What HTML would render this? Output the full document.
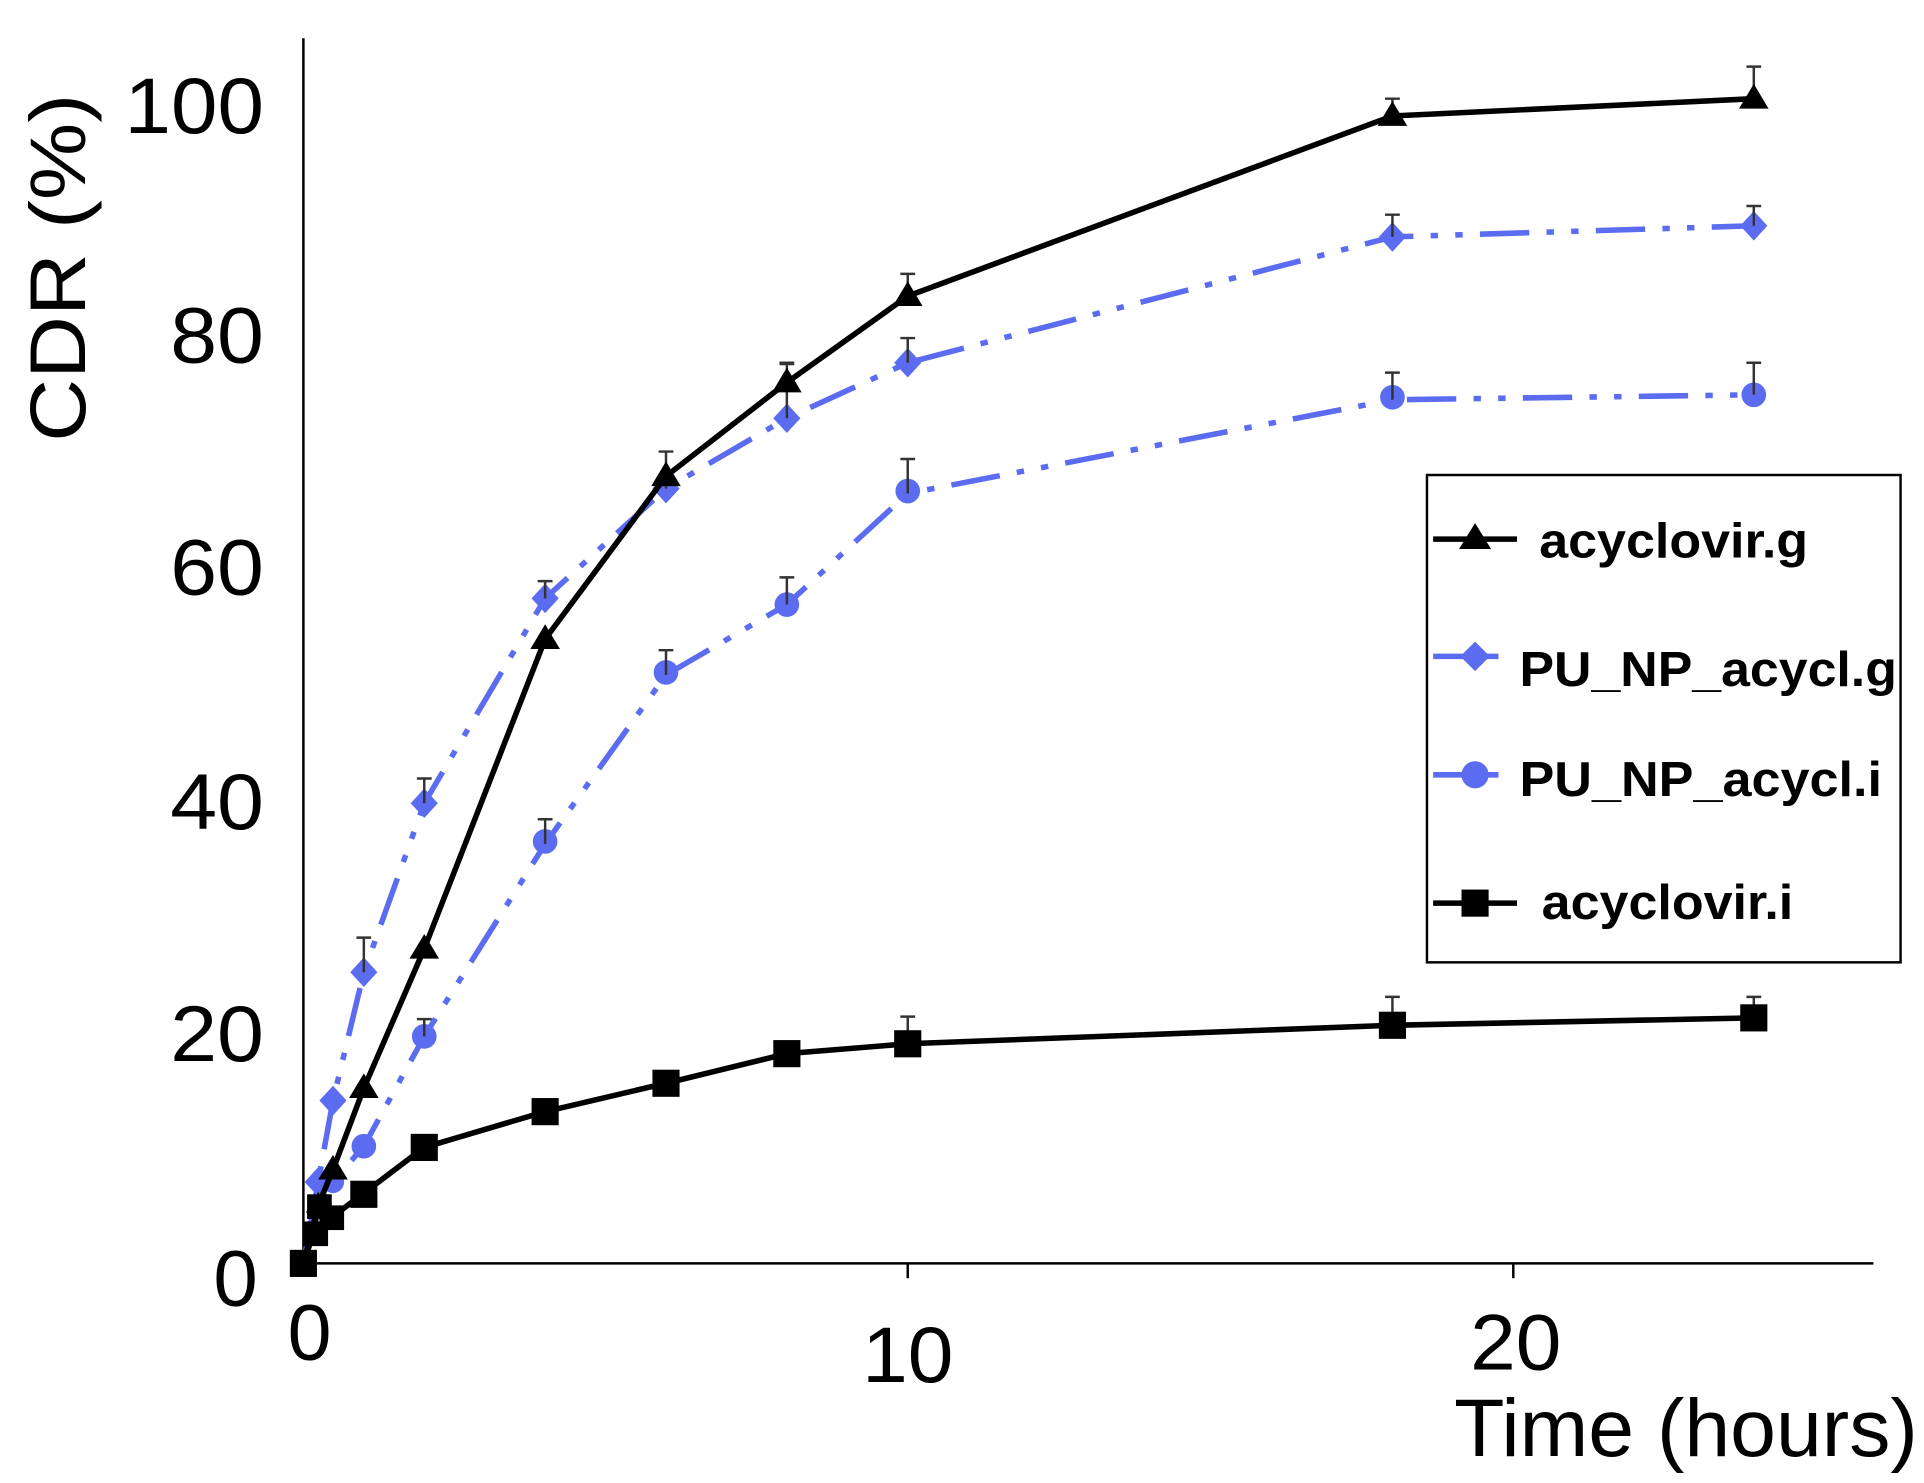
<!DOCTYPE html>
<html><head><meta charset="utf-8"><style>html,body{margin:0;padding:0;background:#fff;}svg{display:block}</style></head>
<body>
<svg width="1924" height="1483" viewBox="0 0 1560 1202" preserveAspectRatio="none" xmlns="http://www.w3.org/2000/svg" font-family="Liberation Sans, sans-serif">
<rect width="1560" height="1202" fill="#fff"/>
<g transform="translate(-1,-4)">
<!-- axes -->
<line x1="247" y1="35" x2="247" y2="1028" stroke="#000" stroke-width="2"/>
<line x1="247" y1="1028" x2="1520" y2="1028" stroke="#000" stroke-width="2"/>
<line x1="737" y1="1028" x2="737" y2="1040" stroke="#000" stroke-width="2"/>
<line x1="1228" y1="1028" x2="1228" y2="1040" stroke="#000" stroke-width="2"/>
<g font-size="64" text-anchor="end" fill="#000">
<text x="215" y="112" textLength="113" lengthAdjust="spacingAndGlyphs">100</text>
<text x="215" y="298" textLength="76" lengthAdjust="spacingAndGlyphs">80</text>
<text x="215" y="486" textLength="76" lengthAdjust="spacingAndGlyphs">60</text>
<text x="215" y="676" textLength="76" lengthAdjust="spacingAndGlyphs">40</text>
<text x="215" y="864" textLength="76" lengthAdjust="spacingAndGlyphs">20</text>
<text x="210" y="1062" textLength="36" lengthAdjust="spacingAndGlyphs">0</text>
</g>
<g font-size="64" text-anchor="middle">
<text x="252" y="1106">0</text>
<text x="737" y="1124" textLength="74" lengthAdjust="spacingAndGlyphs">10</text>
<text x="1230" y="1114" textLength="74" lengthAdjust="spacingAndGlyphs">20</text>
</g>
<text x="1180" y="1184" font-size="66" textLength="376" lengthAdjust="spacingAndGlyphs">Time (hours)</text>
<text transform="translate(70,362) rotate(-90)" font-size="64" textLength="282" lengthAdjust="spacingAndGlyphs">CDR (%)</text>

<!-- blue series -->
<g stroke="#5b6cf0" stroke-width="4.5" fill="none" stroke-dasharray="40,14,6,14,6,14">
<polyline points="247,1028 259,962 271,896 296,792 345,655 443,489 541,400 639,343 737,298 1130,196 1423,187"/>
<polyline points="247,1028 259,981 271,962 296,933 345,844 443,688 541,551 639,494 737,404 1130,328 1423,324"/>
</g>
<g fill="#5b6cf0">
<path d="M259,950 l11,12 -11,12 -11,-12z"/><path d="M271,884 l11,12 -11,12 -11,-12z"/><path d="M296,780 l11,12 -11,12 -11,-12z"/><path d="M345,643 l11,12 -11,12 -11,-12z"/><path d="M443,477 l11,12 -11,12 -11,-12z"/><path d="M541,388 l11,12 -11,12 -11,-12z"/><path d="M639,331 l11,12 -11,12 -11,-12z"/><path d="M737,286 l11,12 -11,12 -11,-12z"/><path d="M1130,184 l11,12 -11,12 -11,-12z"/><path d="M1423,175 l11,12 -11,12 -11,-12z"/>
<circle cx="296" cy="933" r="10"/><circle cx="345" cy="844" r="10"/><circle cx="443" cy="686" r="10"/><circle cx="541" cy="549" r="10"/><circle cx="639" cy="494" r="10"/><circle cx="737" cy="402" r="10"/><circle cx="1130" cy="326" r="10"/><circle cx="1423" cy="324" r="10"/><circle cx="271" cy="962" r="9"/>
</g>
<!-- error bars -->
<g stroke="#333" stroke-width="2">
<path d="M296,792v-28M290,764h12 M345,655v-20M339,635h12 M443,489v-14M437,475h12 M541,400v-30M535,370h12 M639,343v-44M633,299h12 M737,298v-20M731,278h12 M737,404v-28M731,376h12 M639,494v-22M633,472h12 M541,551v-20M535,531h12 M443,688v-20M437,668h12 M345,844v-14M339,830h12 M1130,196v-18M1124,178h12 M1423,187v-16M1417,171h12 M1130,328v-22M1124,306h12 M1423,324v-26M1417,298h12 M1423,84v-26M1417,58h12 M1130,98v-14M1124,84h12 M737,240v-14M731,226h12 M639,314v-16M633,298h12 M541,390v-20M535,370h12 M1130,836v-24M1124,812h12 M1423,830v-18M1417,812h12 M737,852v-24M731,828h12"/>
</g>
<!-- black series -->
<g stroke="#000" stroke-width="4.5" fill="none">
<polyline points="247,1028 259,981 271,952 296,886 345,773 443,522 541,390 639,314 737,244 1130,98 1423,84"/>
<polyline points="247,1028 255,1004 259,981 271,990 296,971 345,934 443,905 541,882 639,858 737,850 1130,835 1423,829"/>
</g>
<g fill="#000">
<path d="M271,940 l12,20 h-24z"/><path d="M296,874 l12,20 h-24z"/><path d="M345,761 l12,20 h-24z"/><path d="M443,510 l12,20 h-24z"/><path d="M541,378 l12,20 h-24z"/><path d="M639,302 l12,20 h-24z"/><path d="M737,232 l12,20 h-24z"/><path d="M1130,86 l12,20 h-24z"/><path d="M1423,72 l12,20 h-24z"/><path d="M259,970 l10,17 h-20z"/>
<rect x="236" y="1017" width="22" height="22"/><rect x="247" y="994" width="20" height="20"/><rect x="250" y="972" width="20" height="20"/><rect x="260" y="981" width="20" height="20"/><rect x="285" y="961" width="22" height="22"/><rect x="334" y="923" width="22" height="22"/><rect x="432" y="894" width="22" height="22"/><rect x="530" y="871" width="22" height="22"/><rect x="628" y="847" width="22" height="22"/><rect x="726" y="839" width="22" height="22"/><rect x="1119" y="824" width="22" height="22"/><rect x="1412" y="818" width="22" height="22"/>
</g>
</g>
<!-- legend -->
<rect x="1157" y="385" width="384" height="395" fill="#fff" stroke="#000" stroke-width="2"/>
<line x1="1162" y1="437" x2="1230" y2="437" stroke="#000" stroke-width="4.5"/>
<path d="M1196,424 l13,21 h-26z" fill="#000"/>
<line x1="1162" y1="532" x2="1215" y2="532" stroke="#5b6cf0" stroke-width="4.5"/>
<path d="M1196,520 l12,12 -12,12 -12,-12z" fill="#5b6cf0"/>
<line x1="1162" y1="628" x2="1215" y2="628" stroke="#5b6cf0" stroke-width="4.5"/>
<circle cx="1196" cy="628" r="11" fill="#5b6cf0"/>
<line x1="1162" y1="732" x2="1230" y2="732" stroke="#000" stroke-width="4.5"/>
<rect x="1185" y="721" width="22" height="22" fill="#000"/>
<g font-size="40" font-weight="bold">
<text x="1248" y="452" textLength="218" lengthAdjust="spacingAndGlyphs">acyclovir.g</text>
<text x="1232" y="556" textLength="306" lengthAdjust="spacingAndGlyphs">PU_NP_acycl.g</text>
<text x="1232" y="645" textLength="294" lengthAdjust="spacingAndGlyphs">PU_NP_acycl.i</text>
<text x="1250" y="745" textLength="204" lengthAdjust="spacingAndGlyphs">acyclovir.i</text>
</g>
</svg>
</body></html>
